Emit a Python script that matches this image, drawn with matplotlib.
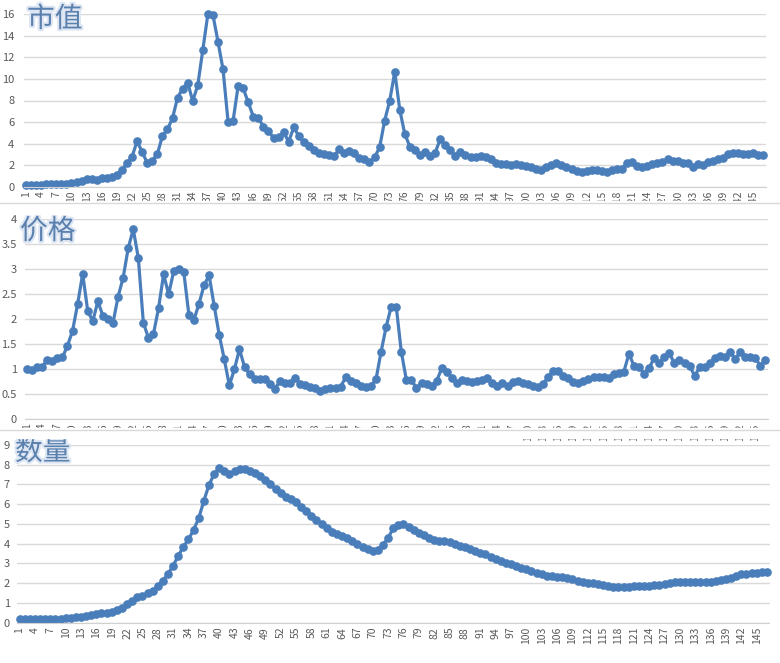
import numpy as np
import matplotlib.pyplot as plt
from matplotlib import patheffects
from matplotlib.patches import Rectangle
from matplotlib.lines import Line2D

plt.rcParams['font.family'] = ['Noto Sans CJK SC', 'DejaVu Sans']

# 市值
shizhi = [0.2, 0.2, 0.2, 0.2, 0.22, 0.23, 0.25, 0.27, 0.28, 0.32,
          0.4, 0.5, 0.7, 0.72, 0.62, 0.78, 0.82, 0.88, 1.1, 1.55,
          2.17, 2.8, 4.24, 3.19, 2.23, 2.41, 3.03, 4.7, 5.33, 6.35,
          8.27, 9.1, 9.66, 7.96, 9.41, 12.7, 16.0, 15.95, 13.47, 10.9,
          6.04, 6.13, 9.38, 9.13, 7.83, 6.5, 6.38, 5.57, 5.2, 4.49,
          4.58, 5.05, 4.18, 5.51, 4.7, 4.18, 3.8, 3.4, 3.1, 3.0,
          2.94, 2.85, 3.47, 3.16, 3.34, 3.16, 2.66, 2.54, 2.26, 2.72,
          3.65, 6.13, 7.96, 10.65, 7.12, 4.86, 3.72, 3.37, 2.97, 3.22,
          2.85, 3.16, 4.4, 3.87, 3.4, 2.88, 3.19, 2.97, 2.72, 2.72,
          2.85, 2.79, 2.54, 2.23, 2.1, 2.1, 2.04, 2.1, 2.0, 1.92,
          1.8, 1.61, 1.55, 1.8, 2.0, 2.17, 1.98, 1.8, 1.64, 1.49,
          1.39, 1.42, 1.55, 1.55, 1.49, 1.39, 1.55, 1.67, 1.64, 2.23,
          2.26, 1.92, 1.86, 1.92, 2.1, 2.17, 2.26, 2.54, 2.41, 2.41,
          2.23, 2.23, 1.86, 2.1, 2.0, 2.26, 2.38, 2.54, 2.69, 3.03,
          3.1, 3.1, 3.07, 3.07, 3.16, 2.94, 2.94]

# 价格
jiage = [1.0, 0.99, 1.04, 1.05, 1.19, 1.16, 1.23, 1.24, 1.47, 1.77,
         2.3, 2.91, 2.17, 1.96, 2.36, 2.07, 2.0, 1.93, 2.45, 2.83,
         3.42, 3.8, 3.23, 1.93, 1.63, 1.71, 2.22, 2.9, 2.5, 2.96,
         3.0, 2.94, 2.09, 1.99, 2.31, 2.68, 2.88, 2.27, 1.69, 1.2,
         0.68, 1.0, 1.4, 1.05, 0.9, 0.8, 0.8, 0.8, 0.71, 0.61,
         0.76, 0.72, 0.73, 0.83, 0.7, 0.69, 0.65, 0.62, 0.57, 0.6,
         0.62, 0.62, 0.65, 0.84, 0.77, 0.72, 0.67, 0.64, 0.67, 0.8,
         1.35, 1.85, 2.25, 2.25, 1.35, 0.79, 0.79, 0.62, 0.73, 0.71,
         0.67, 0.77, 1.02, 0.95, 0.83, 0.73, 0.79, 0.77, 0.75, 0.77,
         0.79, 0.82, 0.72, 0.67, 0.72, 0.67, 0.75, 0.77, 0.72, 0.71,
         0.67, 0.64, 0.7, 0.84, 0.97, 0.97, 0.87, 0.82, 0.75, 0.72,
         0.77, 0.8, 0.84, 0.85, 0.85, 0.82, 0.91, 0.92, 0.95, 1.31,
         1.07, 1.05, 0.91, 1.03, 1.22, 1.13, 1.25, 1.32, 1.12, 1.19,
         1.13, 1.07, 0.87, 1.04, 1.05, 1.12, 1.22, 1.27, 1.25, 1.35,
         1.21, 1.34, 1.25, 1.25, 1.22, 1.07, 1.19]

# 数量
shuliang = [0.17, 0.17, 0.17, 0.17, 0.18, 0.18, 0.18, 0.19, 0.2, 0.22,
            0.24, 0.27, 0.3, 0.35, 0.39, 0.44, 0.47, 0.51, 0.56, 0.64,
            0.76, 0.93, 1.11, 1.28, 1.37, 1.49, 1.62, 1.86, 2.13, 2.47,
            2.89, 3.38, 3.85, 4.22, 4.7, 5.29, 6.17, 6.98, 7.52, 7.82,
            7.69, 7.52, 7.69, 7.79, 7.79, 7.7, 7.6, 7.43, 7.23, 7.01,
            6.77, 6.59, 6.39, 6.27, 6.1, 5.88, 5.66, 5.42, 5.2, 4.98,
            4.78, 4.61, 4.49, 4.39, 4.27, 4.14, 3.99, 3.85, 3.72, 3.65,
            3.68, 3.95, 4.3, 4.78, 4.97, 5.0, 4.86, 4.7, 4.56, 4.43,
            4.27, 4.19, 4.16, 4.14, 4.07, 3.99, 3.9, 3.82, 3.72, 3.63,
            3.55, 3.46, 3.34, 3.23, 3.13, 3.04, 2.96, 2.87, 2.79, 2.7,
            2.62, 2.53, 2.45, 2.38, 2.36, 2.33, 2.3, 2.25, 2.2, 2.13,
            2.08, 2.03, 1.99, 1.94, 1.91, 1.86, 1.82, 1.79, 1.79, 1.82,
            1.88, 1.88, 1.86, 1.88, 1.89, 1.93, 1.98, 2.01, 2.04, 2.06,
            2.06, 2.04, 2.04, 2.04, 2.06, 2.08, 2.13, 2.18, 2.23, 2.28,
            2.38, 2.45, 2.48, 2.5, 2.52, 2.55, 2.58]

titles = ['市值', '价格', '数量']
y_max = [16, 4, 9]
y_step = [2, 0.5, 1]

W, H = 780, 663
BLUE = '#4a7ebb'
GRID = '#d9d9d9'
TXT = '#595959'

fig = plt.figure(figsize=(W / 100, H / 100), dpi=100)

# axes boxes in pixels: left, top, right, bottom
boxes = [(23.5, 14.3, 766, 186.7), (24.5, 219.3, 768, 419.3), (17, 445, 769.5, 622.7)]
ypads = [6.5, 5.5, 5]
title_pos = [(27, 4), (20, 216), (15, 437)]

series = [shizhi, jiage, shuliang]
for vals, title, ymax, step, box, ypad, tpos in zip(series, titles, y_max, y_step,
                                                    boxes, ypads, title_pos):
    n = len(vals)
    x = np.arange(1, n + 1)
    l, t, r, b = box
    ax = fig.add_axes([l / W, 1 - b / H, (r - l) / W, (b - t) / H])
    ax.plot(x, vals, color=BLUE, lw=2.3, marker='o', ms=5.2, mec=BLUE, clip_on=False)
    ax.set_xlim(0.5, n + 0.5)
    ax.set_ylim(0, ymax)
    ticks = np.arange(0, ymax + step / 2, step)
    ax.set_yticks(ticks)
    ax.set_yticklabels([f'{v:g}' for v in ticks])
    ax.set_xticks(x[::3])
    ax.set_xticklabels([str(v) for v in x[::3]])
    ax.yaxis.grid(True, color=GRID, lw=1)
    ax.set_axisbelow(True)
    for s in ['top', 'right', 'left']:
        ax.spines[s].set_visible(False)
    ax.spines['bottom'].set_color('#d0d0d0')
    ax.tick_params(axis='y', length=0, pad=ypad, labelsize=8, labelcolor=TXT)
    ax.tick_params(axis='x', length=0, pad=3, labelsize=7.5, labelcolor=TXT,
                   labelrotation=90)
    fig.text(tpos[0] / W, 1 - tpos[1] / H, title, fontsize=20, color='#5a80ae',
             va='top', ha='left',
             path_effects=[patheffects.withStroke(linewidth=3, foreground='#dde6f2')])

# the three charts overlap each other, hiding part of the tick labels
for y0, y1 in [(201, 214), (428, 438)]:
    fig.add_artist(Rectangle((0, 1 - y1 / H), 1, (y1 - y0) / H, transform=fig.transFigure,
                             color='white', zorder=5))
for yy in [203, 430]:
    fig.add_artist(Line2D([0, 1], [1 - yy / H] * 2, transform=fig.transFigure,
                          color=GRID, lw=1, zorder=6))

fig.savefig('out.png', dpi=100)
